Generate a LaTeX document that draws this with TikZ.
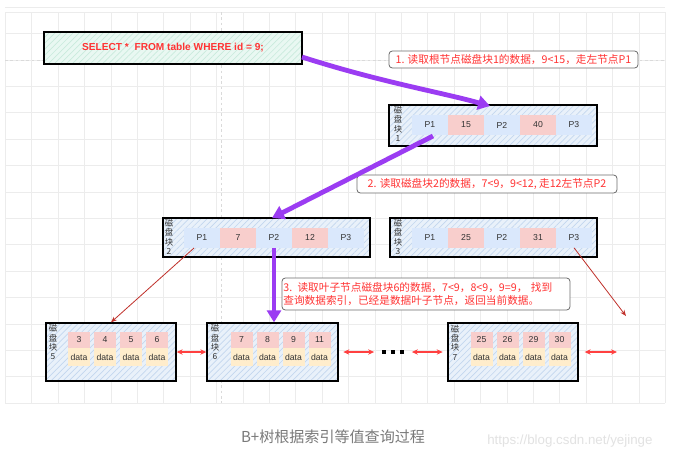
\documentclass[tikz,border=0pt]{standalone}
\usepackage{fontspec}
\setmainfont{Liberation Sans}
\newfontfamily\cjk{Noto Sans CJK SC}
\usetikzlibrary{arrows.meta,patterns.meta}
\definecolor{gridc}{HTML}{ECECEC}
\definecolor{dashc}{HTML}{DADADA}
\definecolor{blkfill}{HTML}{E9F1FA}
\definecolor{blkhatch}{HTML}{C3D7EE}
\definecolor{mintfill}{HTML}{E9F8F2}
\definecolor{minthatch}{HTML}{C9EBDD}
\definecolor{pfill}{HTML}{DAE8FC}
\definecolor{kfill}{HTML}{F8CECC}
\definecolor{dfill}{HTML}{FFEDCC}
\definecolor{cellt}{HTML}{333333}
\definecolor{redt}{HTML}{FF3333}
\definecolor{purp}{HTML}{9B3CF2}
\definecolor{darkred}{HTML}{C0302A}
\definecolor{dblred}{HTML}{FF4040}
\definecolor{capt}{HTML}{7A7A7A}
\definecolor{wmark}{HTML}{E2E2E2}
\tikzset{
  gridline/.style={draw=gridc, line width=0.4pt},
  blk/.style={draw=black, line width=1pt, preaction={fill=blkfill},
    pattern={Lines[angle=45,distance=3.2pt,line width=0.5pt]}, pattern color=blkhatch,
    inner sep=0, minimum height=#1},
  sqlbox/.style={draw=black, line width=1.1pt, preaction={fill=mintfill},
    pattern={Lines[angle=45,distance=3.2pt,line width=0.5pt]}, pattern color=minthatch,
    inner sep=0, minimum width=193.5pt, minimum height=24pt,
    font=\fontsize{7.6}{9}\selectfont\bfseries, text=redt},
  lab/.style={draw=gray!85!black, line width=0.6pt, rounded corners=2.5pt, fill=white,
    inner sep=1pt, font=\cjk\fontsize{8}{9.2}\selectfont, text=redt},
  pcell/.style={fill=pfill, minimum width=27pt, minimum height=15pt, inner sep=0,
    font=\fontsize{6.5}{7}\selectfont, text=cellt},
  kcell/.style={pcell, fill=kfill},
  lkey/.style={fill=kfill, minimum width=16.5pt, minimum height=12pt, inner sep=0,
    font=\fontsize{6.5}{7}\selectfont, text=cellt},
  ldat/.style={lkey, fill=dfill, minimum height=13.5pt},
  vlab/.style={font=\cjk\fontsize{6.3}{7}\selectfont, align=center, inner sep=0, text=cellt},
  parrow/.style={draw=purp, line width=3.6pt, -{Triangle[length=9pt,width=10.5pt]}},
  rarrow/.style={draw=darkred, line width=0.6pt, -{Stealth[length=4.5pt,width=3.5pt]}},
  darrow/.style={draw=dblred, line width=0.8pt, {Stealth[length=4.5pt,width=4pt]}-{Stealth[length=4.5pt,width=4pt]}},
  dotsq/.style={fill=black, minimum size=2.4pt, inner sep=0},
}
\begin{document}
\begin{tikzpicture}[x=0.75pt,y=-0.75pt]
\useasboundingbox[fill=white] (0,0) rectangle (694,462);
% grid
\foreach \i in {0,...,25} { \draw[gridline] ({5.3+26.4*\i},12) -- ({5.3+26.4*\i},403); }
\foreach \j in {0,...,15} { \draw[gridline] (5,{7+26.4*\j}) -- (665,{7+26.4*\j}); }
\draw[gridline] (5,12) -- (665,12);
\draw[dashc, dash pattern=on 2pt off 2pt, line width=0.4pt] (221,12) -- (221,403);
\draw[dashc, dash pattern=on 2pt off 2pt, line width=0.4pt] (5,59.8) -- (665,59.8);

% SQL
\node[sqlbox] (sql) at (173,48) {SELECT *\ \ FROM table WHERE id = 9;};

% labels
\node[lab, minimum width=186.75pt, minimum height=12.75pt] (l1) at (513.5,59.5)
  {1. 读取根节点磁盘块1的数据，9<15，走左节点P1};
\node[lab, minimum width=195pt, minimum height=13.5pt] (l2) at (487,184)
  {2. 读取磁盘块2的数据，7<9，9<12, 走12左节点P2};
\node[lab, minimum height=24pt, text width=214pt, align=left] (l3) at (426,294)
  {3. 读取叶子节点磁盘块6的数据，7<9，8<9，9=9， 找到\\查询数据索引，已经是数据叶子节点，返回当前数据。};

% block 1
\node[blk=30.75pt, minimum width=156pt] (b1) at (493,125.5) {};
\node[vlab] (b1l) at (398,124) {磁\\盘\\块\\1};
\node[pcell] (b1p1) at (430,125) {P1};
\node[kcell] (b1k1) at (466,125) {15};
\node[pcell] (b1p2) at (502,125) {P2};
\node[kcell] (b1k2) at (538,125) {40};
\node[pcell] (b1p3) at (574,125) {P3};

% block 2
\node[blk=29.25pt, minimum width=155.25pt] (b2) at (266.5,237.5) {};
\node[vlab] (b2l) at (169,237) {磁\\盘\\块\\2};
\node[pcell] (b2p1) at (202,237.5) {P1};
\node[kcell] (b2k1) at (238,237.5) {7};
\node[pcell] (b2p2) at (274,237.5) {P2};
\node[kcell] (b2k2) at (310,237.5) {12};
\node[pcell] (b2p3) at (346,237.5) {P3};

% block 3
\node[blk=29.25pt, minimum width=155.25pt] (b3) at (493.5,237.5) {};
\node[vlab] (b3l) at (398,237) {磁\\盘\\块\\3};
\node[pcell] (b3p1) at (430,237.5) {P1};
\node[kcell] (b3k1) at (466,237.5) {25};
\node[pcell] (b3p2) at (502,237.5) {P2};
\node[kcell] (b3k2) at (538,237.5) {31};
\node[pcell] (b3p3) at (574,237.5) {P3};

% leaf blocks
\node[blk=43.5pt, minimum width=97.5pt] (b5) at (111,352) {};
\node[vlab] (b5l) at (53,342.5) {磁\\盘\\块\\5};
\node[lkey] (b5k1) at (79,340) {3};
\node[lkey] (b5k2) at (105,340) {4};
\node[lkey] (b5k3) at (131,340) {5};
\node[lkey] (b5k4) at (157,340) {6};
\node[ldat] (b5d1) at (79,357) {data};
\node[ldat] (b5d2) at (105,357) {data};
\node[ldat] (b5d3) at (131,357) {data};
\node[ldat] (b5d4) at (157,357) {data};

\node[blk=43.5pt, minimum width=98.25pt] (b6) at (272.5,352) {};
\node[vlab] (b6l) at (215,342.5) {磁\\盘\\块\\6};
\node[lkey] (b6k1) at (241.5,340) {7};
\node[lkey] (b6k2) at (267.5,340) {8};
\node[lkey] (b6k3) at (293.5,340) {9};
\node[lkey] (b6k4) at (319.5,340) {11};
\node[ldat] (b6d1) at (241.5,357) {data};
\node[ldat] (b6d2) at (267.5,357) {data};
\node[ldat] (b6d3) at (293.5,357) {data};
\node[ldat] (b6d4) at (319.5,357) {data};

\node[blk=43.5pt, minimum width=97.5pt] (b7) at (513,352) {};
\node[vlab] (b7l) at (455,342.5) {磁\\盘\\块\\7};
\node[lkey] (b7k1) at (481.5,340) {25};
\node[lkey] (b7k2) at (507.5,340) {26};
\node[lkey] (b7k3) at (533.5,340) {29};
\node[lkey] (b7k4) at (559.5,340) {30};
\node[ldat] (b7d1) at (481.5,357) {data};
\node[ldat] (b7d2) at (507.5,357) {data};
\node[ldat] (b7d3) at (533.5,357) {data};
\node[ldat] (b7d4) at (559.5,357) {data};

% dots
\node[dotsq] (d1) at (384,352) {};
\node[dotsq] (d2) at (393,352) {};
\node[dotsq] (d3) at (402,352) {};

% coordinates
\coordinate (a1s) at (302,57);
\coordinate (a1e) at (490,106);
\coordinate (a2s) at (433,136);
\coordinate (a2e) at (272,218);
\coordinate (r1s) at (194,248);
\coordinate (r2e) at (626,316);
\coordinate (dend) at (617,352);

% purple arrows
\draw[parrow] (a1s) .. controls (380,82) and (440,92) .. (a1e);
\draw[parrow] (a2s) -- (a2e);
\draw[parrow] (b2p2.south) -- (b2p2.south |- b6.north);

% red arrows
\draw[rarrow] (r1s) -- (b5.north);
\draw[rarrow] (b3p3.south) -- (r2e);

% double arrows
\draw[darrow] (b5.east) -- (b6.west);
\draw[darrow, shorten <=3.5pt, shorten >=6pt] (b6.east) -- (d1.west);
\draw[darrow, shorten <=6pt, shorten >=3.5pt] (d3.east) -- (b7.west);
\draw[darrow, shorten <=4.5pt] (b7.east) -- (dend);

% caption
\node[font=\cjk\fontsize{11.3}{13}\selectfont, text=capt, inner sep=0] (cap) at (333,437) {B+树根据索引等值查询过程};
\node[font=\fontsize{10}{12}\selectfont, text=wmark, inner sep=0, anchor=west] (wm) at (487,441) {https://blog.csdn.net/yejinge};
\end{tikzpicture}
\end{document}
